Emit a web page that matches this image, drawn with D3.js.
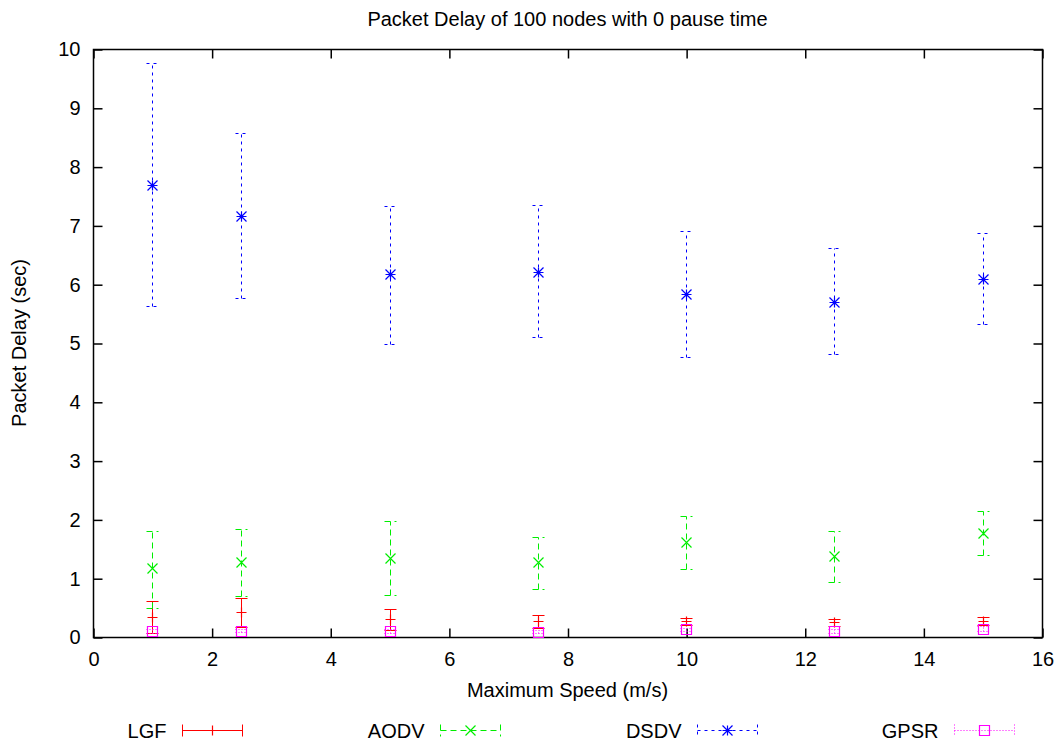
<!DOCTYPE html>
<html>
<head>
<meta charset="utf-8">
<script src="https://cdn.jsdelivr.net/npm/d3@7"></script>
<style>
  body { margin: 0; background: #fff; }
  svg text { font-family: "Liberation Sans", Arial, sans-serif; fill: #000; }
</style>
</head>
<body>
<div id="viz"></div>
<script>
const speeds = [1, 2.5, 5, 7.5, 10, 12.5, 15];

const lgfMean = [0.34, 0.43, 0.30, 0.27, 0.27, 0.25, 0.28];
const lgfLow  = [0.06, 0.17, 0.12, 0.15, 0.20, 0.18, 0.21];
const lgfHigh = [0.61, 0.67, 0.47, 0.38, 0.32, 0.31, 0.34];

const aodvMean = [1.17, 1.27, 1.34, 1.27, 1.61, 1.37, 1.77];
const aodvLow  = [0.50, 0.69, 0.71, 0.82, 1.16, 0.93, 1.39];
const aodvHigh = [1.81, 1.83, 1.97, 1.70, 2.06, 1.80, 2.14];

const dsdvMean = [7.69, 7.16, 6.17, 6.20, 5.83, 5.69, 6.09];
const dsdvLow  = [5.63, 5.76, 4.98, 5.10, 4.77, 4.81, 5.32];
const dsdvHigh = [9.76, 8.57, 7.33, 7.35, 6.90, 6.61, 6.87];

const gpsrMean = [0.10, 0.11, 0.10, 0.09, 0.13, 0.10, 0.14];
const gpsrLow  = [0.07, 0.08, 0.07, 0.06, 0.10, 0.07, 0.10];
const gpsrHigh = [0.13, 0.14, 0.13, 0.12, 0.16, 0.13, 0.18];

const xTicks = [0, 2, 4, 6, 8, 10, 12, 14, 16];
const yTicks = [0, 1, 2, 3, 4, 5, 6, 7, 8, 9, 10];

const series = [
  { name: 'LGF',  mean: lgfMean,  low: lgfLow,  high: lgfHigh,  color: '#ff0000', dash: null,  mark: 'plus' },
  { name: 'AODV', mean: aodvMean, low: aodvLow, high: aodvHigh, color: '#00ee00', dash: '6,4', mark: 'cross' },
  { name: 'DSDV', mean: dsdvMean, low: dsdvLow, high: dsdvHigh, color: '#0000ff', dash: '3,4', mark: 'star' },
  { name: 'GPSR', mean: gpsrMean, low: gpsrLow, high: gpsrHigh, color: '#ff00ff', dash: '1,2', mark: 'box' }
];

const W = 1061, H = 745;
const margin = { top: 49, right: 19, bottom: 108, left: 93 };
const width = W - margin.left - margin.right;
const height = H - margin.top - margin.bottom;
const fs = '20px';

const svg = d3.select('#viz').append('svg')
  .attr('width', W).attr('height', H);

const g = svg.append('g')
  .attr('transform', `translate(${margin.left + 0.5},${margin.top + 0.5})`);

const x = d3.scaleLinear().domain([0, 16]).range([0, width]);
const y = d3.scaleLinear().domain([0, 10]).range([height, 0]);
const px = v => Math.round(x(v));
const py = v => Math.round(y(v));

// axes with inward ticks on all four sides
g.append('g')
  .attr('transform', `translate(0,${height})`)
  .call(d3.axisBottom(x).tickValues(xTicks).tickSize(-9).tickPadding(14).tickFormat(d3.format('d')))
  .call(a => a.select('.domain').remove());
g.append('g')
  .call(d3.axisTop(x).tickValues(xTicks).tickSize(-9).tickFormat(''))
  .call(a => a.select('.domain').remove());
g.append('g')
  .call(d3.axisLeft(y).tickValues(yTicks).tickSize(-9).tickPadding(13).tickFormat(d3.format('d')))
  .call(a => a.select('.domain').remove());
g.append('g')
  .attr('transform', `translate(${width},0)`)
  .call(d3.axisRight(y).tickValues(yTicks).tickSize(-9).tickFormat(''))
  .call(a => a.select('.domain').remove());

g.selectAll('.tick line').attr('stroke', '#000').attr('stroke-width', 1.5);
g.selectAll('.tick text').style('font-size', fs);

g.append('rect')
  .attr('width', width).attr('height', height)
  .attr('fill', 'none').attr('stroke', '#000').attr('stroke-width', 1.5);

function drawMark(sel, type, cx, cy, color) {
  const s = 5;
  const p = d3.path();
  if (type === 'plus') {
    p.moveTo(cx - s, cy); p.lineTo(cx + s, cy);
    p.moveTo(cx, cy - s); p.lineTo(cx, cy + s);
  } else if (type === 'cross') {
    p.moveTo(cx - s, cy - s); p.lineTo(cx + s, cy + s);
    p.moveTo(cx - s, cy + s); p.lineTo(cx + s, cy - s);
  } else if (type === 'star') {
    p.moveTo(cx - s, cy); p.lineTo(cx + s, cy);
    p.moveTo(cx, cy - s); p.lineTo(cx, cy + s);
    p.moveTo(cx - s, cy - s); p.lineTo(cx + s, cy + s);
    p.moveTo(cx - s, cy + s); p.lineTo(cx + s, cy - s);
  } else {
    p.rect(cx - 5, cy - 5, 10, 10);
  }
  sel.append('path').attr('d', p.toString())
    .attr('fill', 'none').attr('stroke', color).attr('stroke-width', 1.2);
}

const cap = 6;
series.forEach(s => {
  const sg = g.append('g');
  speeds.forEach((sp, i) => {
    const cx = px(sp);
    sg.append('line')
      .attr('x1', cx).attr('x2', cx)
      .attr('y1', py(s.low[i])).attr('y2', py(s.high[i]))
      .attr('stroke', s.color).attr('stroke-width', 1)
      .attr('stroke-dasharray', s.dash);
    [s.low[i], s.high[i]].forEach(v => {
      sg.append('line')
        .attr('x1', cx - cap).attr('x2', cx + cap)
        .attr('y1', py(v)).attr('y2', py(v))
        .attr('stroke', s.color).attr('stroke-width', 1)
        .attr('stroke-dasharray', s.dash);
    });
    drawMark(sg, s.mark, cx, py(s.mean[i]), s.color);
  });
});

// titles
svg.append('text')
  .attr('x', margin.left + width / 2).attr('y', 26)
  .attr('text-anchor', 'middle')
  .style('font-size', fs)
  .text('Packet Delay of 100 nodes with 0 pause time');

svg.append('text')
  .attr('x', margin.left + width / 2).attr('y', 697)
  .attr('text-anchor', 'middle')
  .style('font-size', fs)
  .text('Maximum Speed (m/s)');

svg.append('text')
  .attr('transform', `translate(26,${margin.top + height / 2}) rotate(-90)`)
  .attr('text-anchor', 'middle')
  .style('font-size', fs)
  .text('Packet Delay (sec)');

// legend
const legendX = [182, 440, 697, 954];
const ly = 730.5;
series.forEach((s, i) => {
  const lx = legendX[i] + 0.5;
  svg.append('text')
    .attr('x', lx - 16).attr('y', ly + 7)
    .attr('text-anchor', 'end')
    .style('font-size', fs)
    .text(s.name);
  svg.append('line')
    .attr('x1', lx).attr('x2', lx + 60)
    .attr('y1', ly).attr('y2', ly)
    .attr('stroke', s.color).attr('stroke-width', 1)
    .attr('stroke-dasharray', s.dash);
  [lx, lx + 60].forEach(ex => {
    svg.append('line')
      .attr('x1', ex).attr('x2', ex)
      .attr('y1', ly - 6).attr('y2', ly + 6)
      .attr('stroke', s.color).attr('stroke-width', 1)
      .attr('stroke-dasharray', s.dash);
  });
  drawMark(svg, s.mark, lx + 30, ly, s.color);
});
</script>
</body>
</html>
